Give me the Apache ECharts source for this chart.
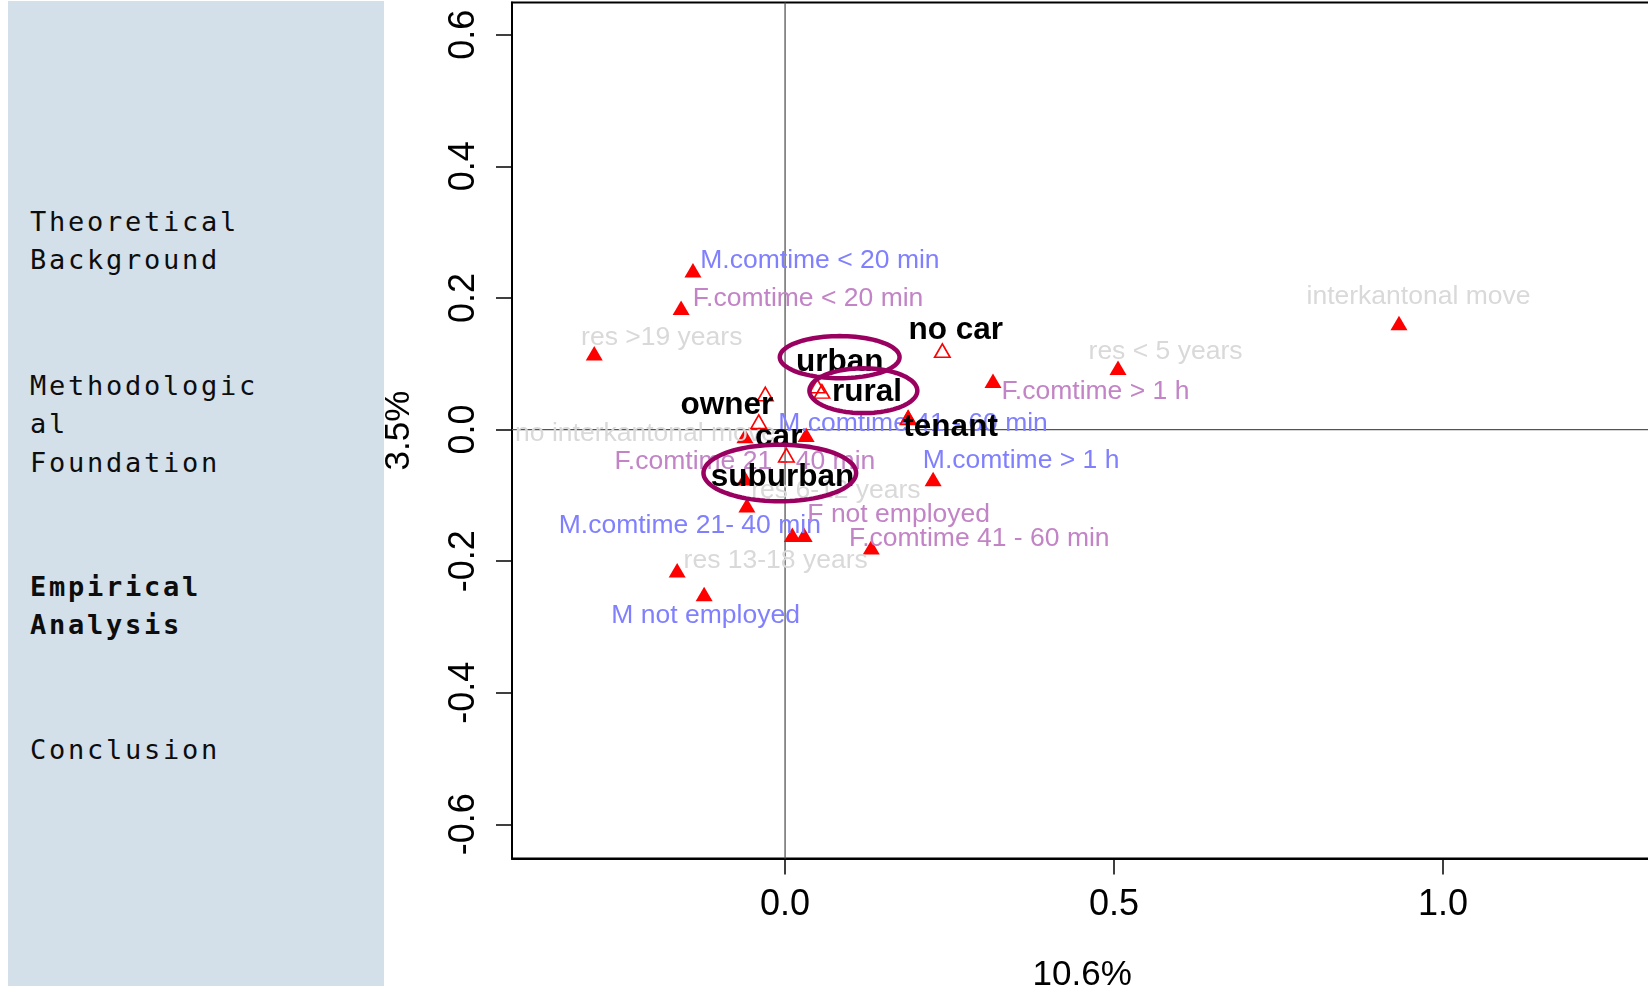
<!DOCTYPE html>
<html>
<head>
<meta charset="utf-8">
<title>CA map</title>
<script src="https://cdn.jsdelivr.net/npm/echarts@6/dist/echarts.min.js"></script>
<style>
  html, body { margin: 0; padding: 0; background: #ffffff; }
  #nav { position: absolute; left: 8px; top: 1px; width: 376px; height: 985px; background: #d3e0ea; }
  .sec { position: absolute; left: 22px; font-family: "DejaVu Sans Mono", monospace; font-size: 27px;
         line-height: 38.3px; letter-spacing: 2.75px; color: #0d0d0d; white-space: nowrap; }
  .sec.cur { font-weight: bold; }
  #chart { position: absolute; left: 0; top: 0; width: 1648px; height: 986px; }
</style>
</head>
<body>
<div id="nav"></div>
<div id="chart"></div>
<script>
// ---- navigation sections ----
const sectionLines = [
  ['Theoretical', 'Background'],
  ['Methodologic', 'al', 'Foundation'],
  ['Empirical', 'Analysis'],
  ['Conclusion']
];
const currentSection = 2;

// ---- axis ticks ----
const xTickValues = [0, 0.5, 1.0];
const xTickLabels = ['0.0', '0.5', '1.0'];
const yTickValues = [-0.6, -0.4, -0.2, 0, 0.2, 0.4, 0.6];
const yTickLabels = ['-0.6', '-0.4', '-0.2', '0.0', '0.2', '0.4', '0.6'];
const xTitle = '10.6%';
const yTitle = '3.5%';

// ---- active categories (filled markers) ----
const activeNames = ['M.comtime < 20 min', 'F.comtime < 20 min', 'res >19 years', 'interkantonal move',
  'res < 5 years', 'F.comtime > 1 h', 'M.comtime 41 - 60 min', 'no interkantonal move', '',
  'M.comtime > 1 h', 'F.comtime 21 - 40 min', 'res 6-12 years', 'M.comtime 21- 40 min',
  'F not employed', 'F.comtime 41 - 60 min', 'res 13-18 years', 'M not employed'];
const activeGroup = ['M', 'F', 'res', 'res', 'res', 'F', 'M', 'res', '', 'M', 'F', 'res', 'M', 'F', 'F', 'res', 'M'];
const activeDim1 = [-0.140, -0.158, -0.290, 0.933, 0.506, 0.316, 0.187, -0.061, 0.032,
  0.225, -0.061, -0.058, 0.011, 0.029, 0.131, -0.164, -0.123];
const activeDim2 = [0.242, 0.185, 0.116, 0.162, 0.094, 0.074, 0.019, -0.010, -0.008,
  -0.075, -0.074, -0.115, -0.160, -0.160, -0.179, -0.214, -0.250];

// ---- supplementary categories (open markers) ----
const suppNames = ['no car', 'urban', 'rural', 'owner', 'car', 'suburban', 'tenant'];
const suppDim1 = [0.239, 0.049, 0.056, -0.030, -0.040, 0.002, 0.187];
const suppDim2 = [0.120, 0.066, 0.058, 0.054, 0.012, -0.039, 0.018];

// ---- highlighted settlement types: centre and semi-axes in map units ----
const ringNames = ['urban', 'rural', 'suburban'];
const ringCx = [0.083, 0.119, -0.008];
const ringCy = [0.110, 0.059, -0.066];
const ringRx = [0.091, 0.082, 0.116];
const ringRy = [0.032, 0.034, 0.043];

// ---- label placement (pixel offsets of label centre from its marker) ----
const labelOffsets = {
  'M.comtime < 20 min': [127, -10], 'F.comtime < 20 min': [127, -9], 'res >19 years': [67.5, -16],
  'interkantonal move': [19.5, -26], 'res < 5 years': [47.5, -16], 'F.comtime > 1 h': [102.5, 11],
  'M.comtime 41 - 60 min': [5, 6.5], 'no interkantonal move': [-99.5, -2], 'M.comtime > 1 h': [88, -18],
  'F.comtime 21 - 40 min': [0, -16.5], 'res 6-12 years': [89, -15], 'M.comtime 21- 40 min': [-102.5, -9.5],
  'F not employed': [94.5, -20.5], 'F.comtime 41 - 60 min': [108, -9], 'res 13-18 years': [98.5, -10],
  'M not employed': [1.5, 21.5],
  'no car': [13.5, -20], 'urban': [22.5, -23.5], 'rural': [45, 1], 'owner': [-38.5, 11],
  'car': [20, 16], 'suburban': [-4, 22], 'tenant': [42.5, 10]
};
const groupColors = { M: '#8080ff', F: '#c284c6', res: '#d9d9d9' };

// ---- sidebar ----
const sectionTops = [202, 366, 567, 730];
const nav = document.getElementById('nav');
sectionLines.forEach((lines, i) => {
  const d = document.createElement('div');
  d.className = 'sec' + (i === currentSection ? ' cur' : '');
  d.style.top = sectionTops[i] + 'px';
  d.innerHTML = lines.join('<br>');
  nav.appendChild(d);
});

// ---- plot frame: equal scaling on both dimensions ----
const PX_PER_UNIT = 658;
const X_MIN = -0.415, X_MAX = 1.318, Y_MIN = -0.652, Y_MAX = 0.649;
const FONT = '"Liberation Sans", Arial, sans-serif';

function tickText(values, labels) {
  return v => {
    const i = values.findIndex(t => Math.abs(t - v) < 1e-9);
    return i >= 0 ? labels[i] : '';
  };
}

const activeData = activeNames.map((n, i) => ({
  name: n,
  value: [activeDim1[i], activeDim2[i]],
  label: n ? { show: true, offset: labelOffsets[n], color: groupColors[activeGroup[i]] } : { show: false }
}));
const suppData = suppNames.map((n, i) => ({
  name: n,
  value: [suppDim1[i], suppDim2[i]],
  label: { offset: labelOffsets[n] }
}));
const ringData = ringNames.map((n, i) => ({ name: n, value: [ringCx[i], ringCy[i], ringRx[i], ringRy[i]] }));

const chart = echarts.init(document.getElementById('chart'), null, { renderer: 'canvas' });
chart.setOption({
  animation: false,
  backgroundColor: 'transparent',
  grid: {
    left: 512, top: 2.5,
    width: (X_MAX - X_MIN) * PX_PER_UNIT,
    height: (Y_MAX - Y_MIN) * PX_PER_UNIT,
    containLabel: false, outerBoundsMode: 'none',
    show: true, borderColor: '#000', borderWidth: 2, backgroundColor: 'transparent'
  },
  xAxis: {
    type: 'value', min: X_MIN, max: X_MAX, position: 'bottom',
    axisLine: { show: true, onZero: false, lineStyle: { color: '#000', width: 2 } },
    axisTick: { show: true, customValues: xTickValues, length: 16, lineStyle: { color: '#000', width: 1.5 } },
    axisLabel: { customValues: xTickValues, formatter: tickText(xTickValues, xTickLabels),
      fontSize: 36, fontFamily: FONT, color: '#000', margin: 29 },
    splitLine: { show: false },
    name: xTitle, nameLocation: 'middle', nameGap: 99,
    nameTextStyle: { fontSize: 35, fontFamily: FONT, color: '#000' }
  },
  yAxis: {
    type: 'value', min: Y_MIN, max: Y_MAX,
    axisLine: { show: true, onZero: false, lineStyle: { color: '#000', width: 2 } },
    axisTick: { show: true, customValues: yTickValues, length: 16, lineStyle: { color: '#000', width: 1.5 } },
    axisLabel: { customValues: yTickValues, formatter: tickText(yTickValues, yTickLabels), rotate: 90,
      fontSize: 36, fontFamily: FONT, color: '#000', margin: 30 },
    splitLine: { show: false },
    name: yTitle, nameLocation: 'middle', nameGap: 95, nameRotate: 90,
    nameTextStyle: { fontSize: 35, fontFamily: FONT, color: '#000' }
  },
  series: [
    {
      // reference lines through the origin
      type: 'custom', z: 1, silent: true,
      data: [[0, 0]],
      renderItem: (params, api) => {
        const o = api.coord([api.value(0), api.value(1)]);
        const cs = params.coordSys;
        return {
          type: 'group',
          children: [
            { type: 'line', shape: { x1: cs.x, y1: o[1], x2: cs.x + cs.width, y2: o[1] },
              style: { stroke: '#555', lineWidth: 1.3 } },
            { type: 'line', shape: { x1: o[0], y1: cs.y, x2: o[0], y2: cs.y + cs.height },
              style: { stroke: '#555', lineWidth: 1.3 } }
          ]
        };
      }
    },
    {
      name: 'active', type: 'scatter', z: 2, silent: true,
      symbol: 'triangle', symbolSize: [17, 14.5],
      itemStyle: { color: '#ff0000', opacity: 1 },
      label: { show: true, position: 'inside', formatter: '{b}', fontSize: 26.5, fontFamily: FONT },
      emphasis: { disabled: true },
      data: activeData
    },
    {
      name: 'supplementary', type: 'scatter', z: 3, silent: true,
      symbol: 'triangle', symbolSize: [15.5, 13.5],
      itemStyle: { color: 'rgba(255,255,255,0)', borderColor: '#ff0000', borderWidth: 1.6, opacity: 1 },
      label: { show: true, position: 'inside', formatter: '{b}', fontSize: 31.5, fontWeight: 'bold',
        fontFamily: FONT, color: '#000' },
      emphasis: { disabled: true },
      data: suppData
    },
    {
      name: 'rings', type: 'custom', z: 5, silent: true,
      data: ringData,
      renderItem: (params, api) => {
        const c = api.coord([api.value(0), api.value(1)]);
        const s = api.size([api.value(2), api.value(3)]);
        const pts = [];
        for (let k = 0; k < 96; k++) {
          const a = (k / 96) * Math.PI * 2;
          pts.push([c[0] + s[0] * Math.cos(a), c[1] + s[1] * Math.sin(a)]);
        }
        return { type: 'polygon', shape: { points: pts },
          style: { fill: 'none', stroke: '#990060', lineWidth: 4.5 } };
      }
    }
  ]
});
</script>
</body>
</html>
